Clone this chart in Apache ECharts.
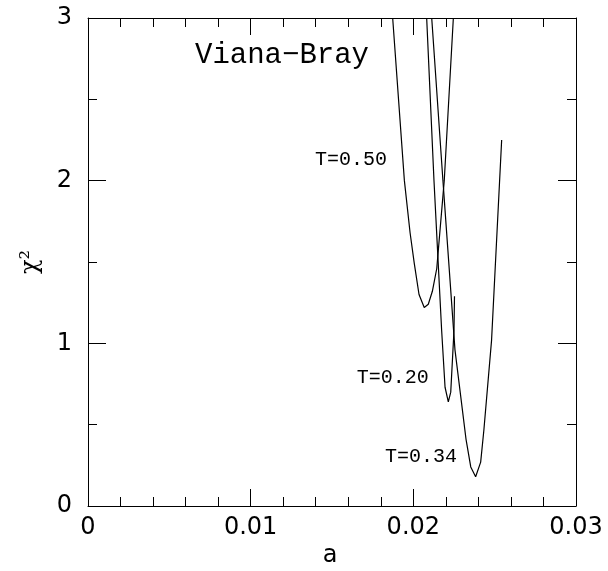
<!DOCTYPE html>
<html>
<head>
<meta charset="utf-8">
<script src="https://cdn.jsdelivr.net/npm/echarts@6/dist/echarts.min.js"></script>
<style>html,body{margin:0;padding:0;background:#fff;}#c{width:608px;height:571px;}</style>
</head>
<body>
<div id="c"></div>
<script>
// ---- data (a, chi^2) ----
var t050_a   = [0.01873, 0.01945, 0.01980, 0.02006, 0.02035, 0.02067, 0.02092, 0.02117, 0.02144, 0.02190, 0.02246];
var t050_chi = [3.00,    2.00,    1.68,    1.49,    1.30,    1.22,    1.24,    1.32,    1.46,    2.00,    3.00];
var t020_a   = [0.02082, 0.02127, 0.02174, 0.02195, 0.02215, 0.02230, 0.02250, 0.02253];
var t020_chi = [3.00,    2.00,    1.08,    0.73,    0.64,    0.70,    1.08,    1.29];
var t034_a   = [0.02113, 0.02182, 0.02256, 0.02324, 0.02353, 0.02383, 0.02414, 0.02434, 0.02481, 0.02543];
var t034_chi = [3.00,    2.00,    0.96,    0.41,    0.24,    0.18,    0.27,    0.47,    1.02,    2.25];
var xTicks = [0, 0.01, 0.02, 0.03];
var yTicks = [0, 1, 2, 3];
var curveLabels = ["T=0.50", "T=0.20", "T=0.34"];
var labelAnchors = [[0.01395, 2.13], [0.01652, 0.79], [0.01826, 0.30]];
var title = "Viana\u2212Bray";

function pairs(xs, ys){ return xs.map(function(x,i){ return [x, ys[i]]; }); }

var chart = echarts.init(document.getElementById('c'), null, {renderer:'canvas'});
var tickFont = {fontFamily:'DejaVu Sans', fontSize:24, color:'#000'};
function xAx(pos, show){
  return {type:'value', position:pos, min:0, max:0.03, interval:0.01,
    axisLine:{show:true, onZero:false, lineStyle:{color:'#000', width:1}},
    axisTick:{show:true, inside:true, length:17, lineStyle:{color:'#000', width:1}},
    minorTick:{show:true, splitNumber:5, length:9, lineStyle:{color:'#000', width:1}},
    splitLine:{show:false}, minorSplitLine:{show:false},
    axisLabel:{show:show, margin:10, fontFamily:tickFont.fontFamily, fontSize:tickFont.fontSize, color:'#000',
      formatter:function(v){ var s = xTicks.filter(function(t){return Math.abs(t-v)<1e-9;}); return s.length? String(s[0]) : ''; }}};
}
function yAx(pos, show){
  return {type:'value', position:pos, min:0, max:3, interval:1,
    axisLine:{show:true, onZero:false, lineStyle:{color:'#000', width:1}},
    axisTick:{show:true, inside:true, length:18, lineStyle:{color:'#000', width:1}},
    minorTick:{show:true, splitNumber:2, length:9, lineStyle:{color:'#000', width:1}},
    splitLine:{show:false}, minorSplitLine:{show:false},
    axisLabel:{show:show, margin:16, fontFamily:tickFont.fontFamily, fontSize:tickFont.fontSize, color:'#000',
      formatter:function(v){ return yTicks.indexOf(v)>=0 ? String(v) : ''; }}};
}
function ser(xs, ys){
  return {type:'line', xAxisIndex:0, yAxisIndex:0, data:pairs(xs,ys), showSymbol:false, symbol:'none',
    lineStyle:{color:'#000', width:1.2}, clip:true, animation:false, silent:true};
}
var option = {
  animation:false,
  grid:{left:88, right:32, top:18, bottom:65, containLabel:false},
  xAxis:[xAx('bottom', true), xAx('top', false)],
  yAxis:[yAx('left', true), yAx('right', false)],
  series:[
    ser(t050_a, t050_chi), ser(t020_a, t020_chi), ser(t034_a, t034_chi)
  ]
};
chart.setOption(option);

var gr = [
  {type:'text', style:{text:title, x:282, y:55, align:'center', verticalAlign:'middle', font:'29px "Liberation Mono"', fill:'#000'}},
  {type:'text', style:{text:'a', x:330, y:556, align:'center', verticalAlign:'middle', font:'24px "DejaVu Sans"', fill:'#000'}},
  {type:'text', x:31, y:262, rotation:Math.PI/2, style:{text:'\u03c7\u00b2', x:0, y:0, align:'center', verticalAlign:'middle', font:'24px "DejaVu Serif"', fill:'#000'}}
];
curveLabels.forEach(function(l, i){
  var p = chart.convertToPixel({xAxisIndex:0, yAxisIndex:0}, labelAnchors[i]);
  gr.push({type:'text', style:{text:l, x:p[0], y:p[1], align:'left', verticalAlign:'middle', font:'20px "Liberation Mono"', fill:'#000'}});
});
chart.setOption({graphic:gr});
</script>
</body>
</html>
